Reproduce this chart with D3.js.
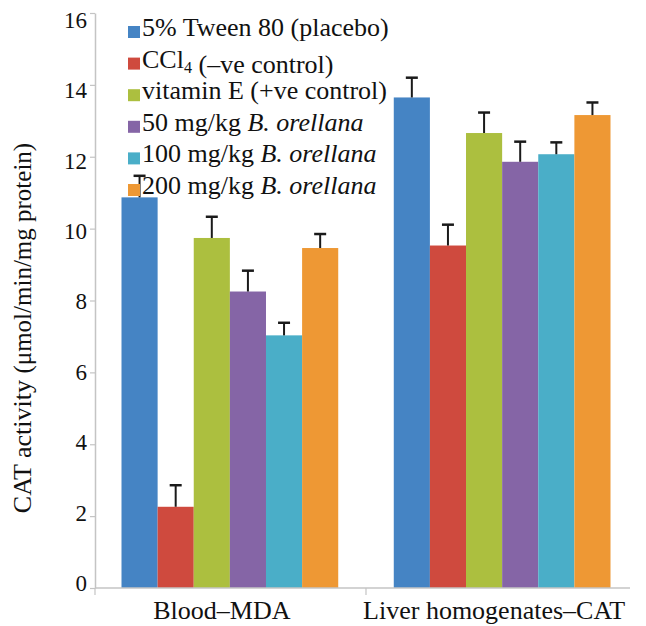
<!DOCTYPE html>
<html>
<head>
<meta charset="utf-8">
<script src="https://cdn.jsdelivr.net/npm/d3@7"></script>
<style>
  html, body { margin: 0; padding: 0; background: #fff; }
  svg { display: block; }
  text { font-family: "Liberation Serif", "Times New Roman", serif; fill: #111; }
</style>
</head>
<body>
<svg id="chart" width="646" height="626"></svg>
<script>
// ---- data ----
const categories = ["Blood\u2013MDA", "Liver homogenates\u2013CAT"];
const seriesLabels = [
  "5% Tween 80 (placebo)",
  "CCl<sub>4</sub> (\u2013ve control)",
  "vitamin E (+ve control)",
  "50 mg/kg <i>B. orellana</i>",
  "100 mg/kg <i>B. orellana</i>",
  "200 mg/kg <i>B. orellana</i>"
];
const seriesColors = ["#4584c4", "#cf4a3e", "#acbf3f", "#8565a6", "#4aaec8", "#ee9834"];
const bloodValues = [10.87, 2.26, 9.74, 8.25, 7.03, 9.46];
const bloodErrors = [0.60, 0.60, 0.59, 0.58, 0.35, 0.39];
const liverValues = [13.65, 9.53, 12.66, 11.86, 12.07, 13.16];
const liverErrors = [0.55, 0.58, 0.57, 0.56, 0.33, 0.35];
const yTicks = [0, 2, 4, 6, 8, 10, 12, 14, 16];
const yLabelMain = "CAT activity ";
const yLabelUnit = "(\u03bcmol/min/mg protein)";

// ---- build table ----
const groupValues = [bloodValues, liverValues];
const groupErrors = [bloodErrors, liverErrors];
const table = categories.map((c, gi) => ({
  category: c,
  bars: seriesLabels.map((s, si) => ({ series: si, value: groupValues[gi][si], err: groupErrors[gi][si] }))
}));

// ---- layout ----
const svg = d3.select("#chart");
const axisX = 95;
const axisEndX = 630;
const y = d3.scaleLinear().domain([0, 16]).range([588, 13]);
const yLab = d3.scaleLinear().domain([0, 16]).range([583, 20]); // label centres in the reference
const x0 = d3.scaleBand().domain(categories).range([94, 638]).paddingInner(0.204).paddingOuter(0.101);
const x1 = d3.scaleBand().domain(d3.range(seriesLabels.length)).range([0, x0.bandwidth()]).padding(0);
const axisColor = "#c4c4c4";

// bars
const groups = svg.append("g").selectAll("g").data(table).join("g")
  .attr("transform", d => `translate(${x0(d.category)},0)`);
groups.selectAll("rect").data(d => d.bars).join("rect")
  .attr("x", d => x1(d.series))
  .attr("width", x1.bandwidth())
  .attr("y", d => y(d.value))
  .attr("height", d => y(0) - y(d.value))
  .attr("fill", d => seriesColors[d.series]);

// error bars (upper only)
const eb = groups.selectAll("g.err").data(d => d.bars).join("g").attr("class", "err");
eb.append("line")
  .attr("x1", d => x1(d.series) + x1.bandwidth() / 2)
  .attr("x2", d => x1(d.series) + x1.bandwidth() / 2)
  .attr("y1", d => y(d.value))
  .attr("y2", d => y(d.value + d.err))
  .attr("stroke", "#1a1a1a").attr("stroke-width", 2);
eb.append("line")
  .attr("x1", d => x1(d.series) + x1.bandwidth() / 2 - 6)
  .attr("x2", d => x1(d.series) + x1.bandwidth() / 2 + 6)
  .attr("y1", d => y(d.value + d.err))
  .attr("y2", d => y(d.value + d.err))
  .attr("stroke", "#1a1a1a").attr("stroke-width", 2.5);

// y axis
const yAxis = svg.append("g").attr("transform", `translate(${axisX},0)`)
  .call(d3.axisLeft(y).tickValues(yTicks).tickSize(5).tickSizeOuter(0).tickPadding(3));
yAxis.select(".domain").attr("stroke", axisColor).attr("stroke-width", 1.5);
yAxis.selectAll(".tick line").attr("stroke", axisColor).attr("stroke-width", 1.2);
yAxis.selectAll(".tick text")
  .attr("font-size", 23)
  .attr("font-family", "Liberation Serif")
  .attr("fill", "#111")
  .attr("y", d => yLab(d) - y(d));

// x axis line and boundary ticks
svg.append("line").attr("x1", axisX).attr("x2", axisEndX).attr("y1", y(0)).attr("y2", y(0))
  .attr("stroke", axisColor).attr("stroke-width", 1.5);
const stepGap = x0.step() * x0.paddingInner() / 2;
const boundaries = [axisX, x0(categories[1]) - stepGap];
svg.selectAll("line.xtick").data(boundaries).join("line").attr("class", "xtick")
  .attr("x1", d => d).attr("x2", d => d).attr("y1", y(0)).attr("y2", y(0) + 7)
  .attr("stroke", axisColor).attr("stroke-width", 1.2);

// category labels
svg.selectAll("text.cat").data(categories).join("text").attr("class", "cat")
  .attr("x", d => x0(d) + x0.bandwidth() / 2 - 8)
  .attr("y", 619)
  .attr("text-anchor", "middle")
  .attr("font-size", 26)
  .text(d => d);

// y axis title
const yt = svg.append("text")
  .attr("transform", "translate(31,328) rotate(-90)")
  .attr("text-anchor", "middle");
yt.append("tspan").attr("font-size", 26).text(yLabelMain);
yt.append("tspan").attr("font-size", 25).text(yLabelUnit);

// legend
function richText(sel, str) {
  const re = /<sub>(.*?)<\/sub>|<i>(.*?)<\/i>|([^<]+)/g;
  let m;
  while ((m = re.exec(str)) !== null) {
    if (m[1] !== undefined) {
      sel.append("tspan").attr("font-size", "0.62em").attr("dy", 5).text(m[1]);
      sel.append("tspan").attr("dy", -5).text("");
    } else if (m[2] !== undefined) {
      sel.append("tspan").attr("font-style", "italic").text(m[2]);
    } else {
      sel.append("tspan").text(m[3]);
    }
  }
}
const legend = svg.append("g");
const rows = legend.selectAll("g").data(seriesLabels).join("g")
  .attr("transform", (d, i) => `translate(128,${36 + i * 31.6})`);
rows.append("rect").attr("x", 0).attr("y", -10).attr("width", 12).attr("height", 12)
  .attr("fill", (d, i) => seriesColors[i]);
rows.append("text").attr("x", 14).attr("y", 0).attr("font-size", 26)
  .each(function(d) { richText(d3.select(this), d); });
</script>
</body>
</html>
